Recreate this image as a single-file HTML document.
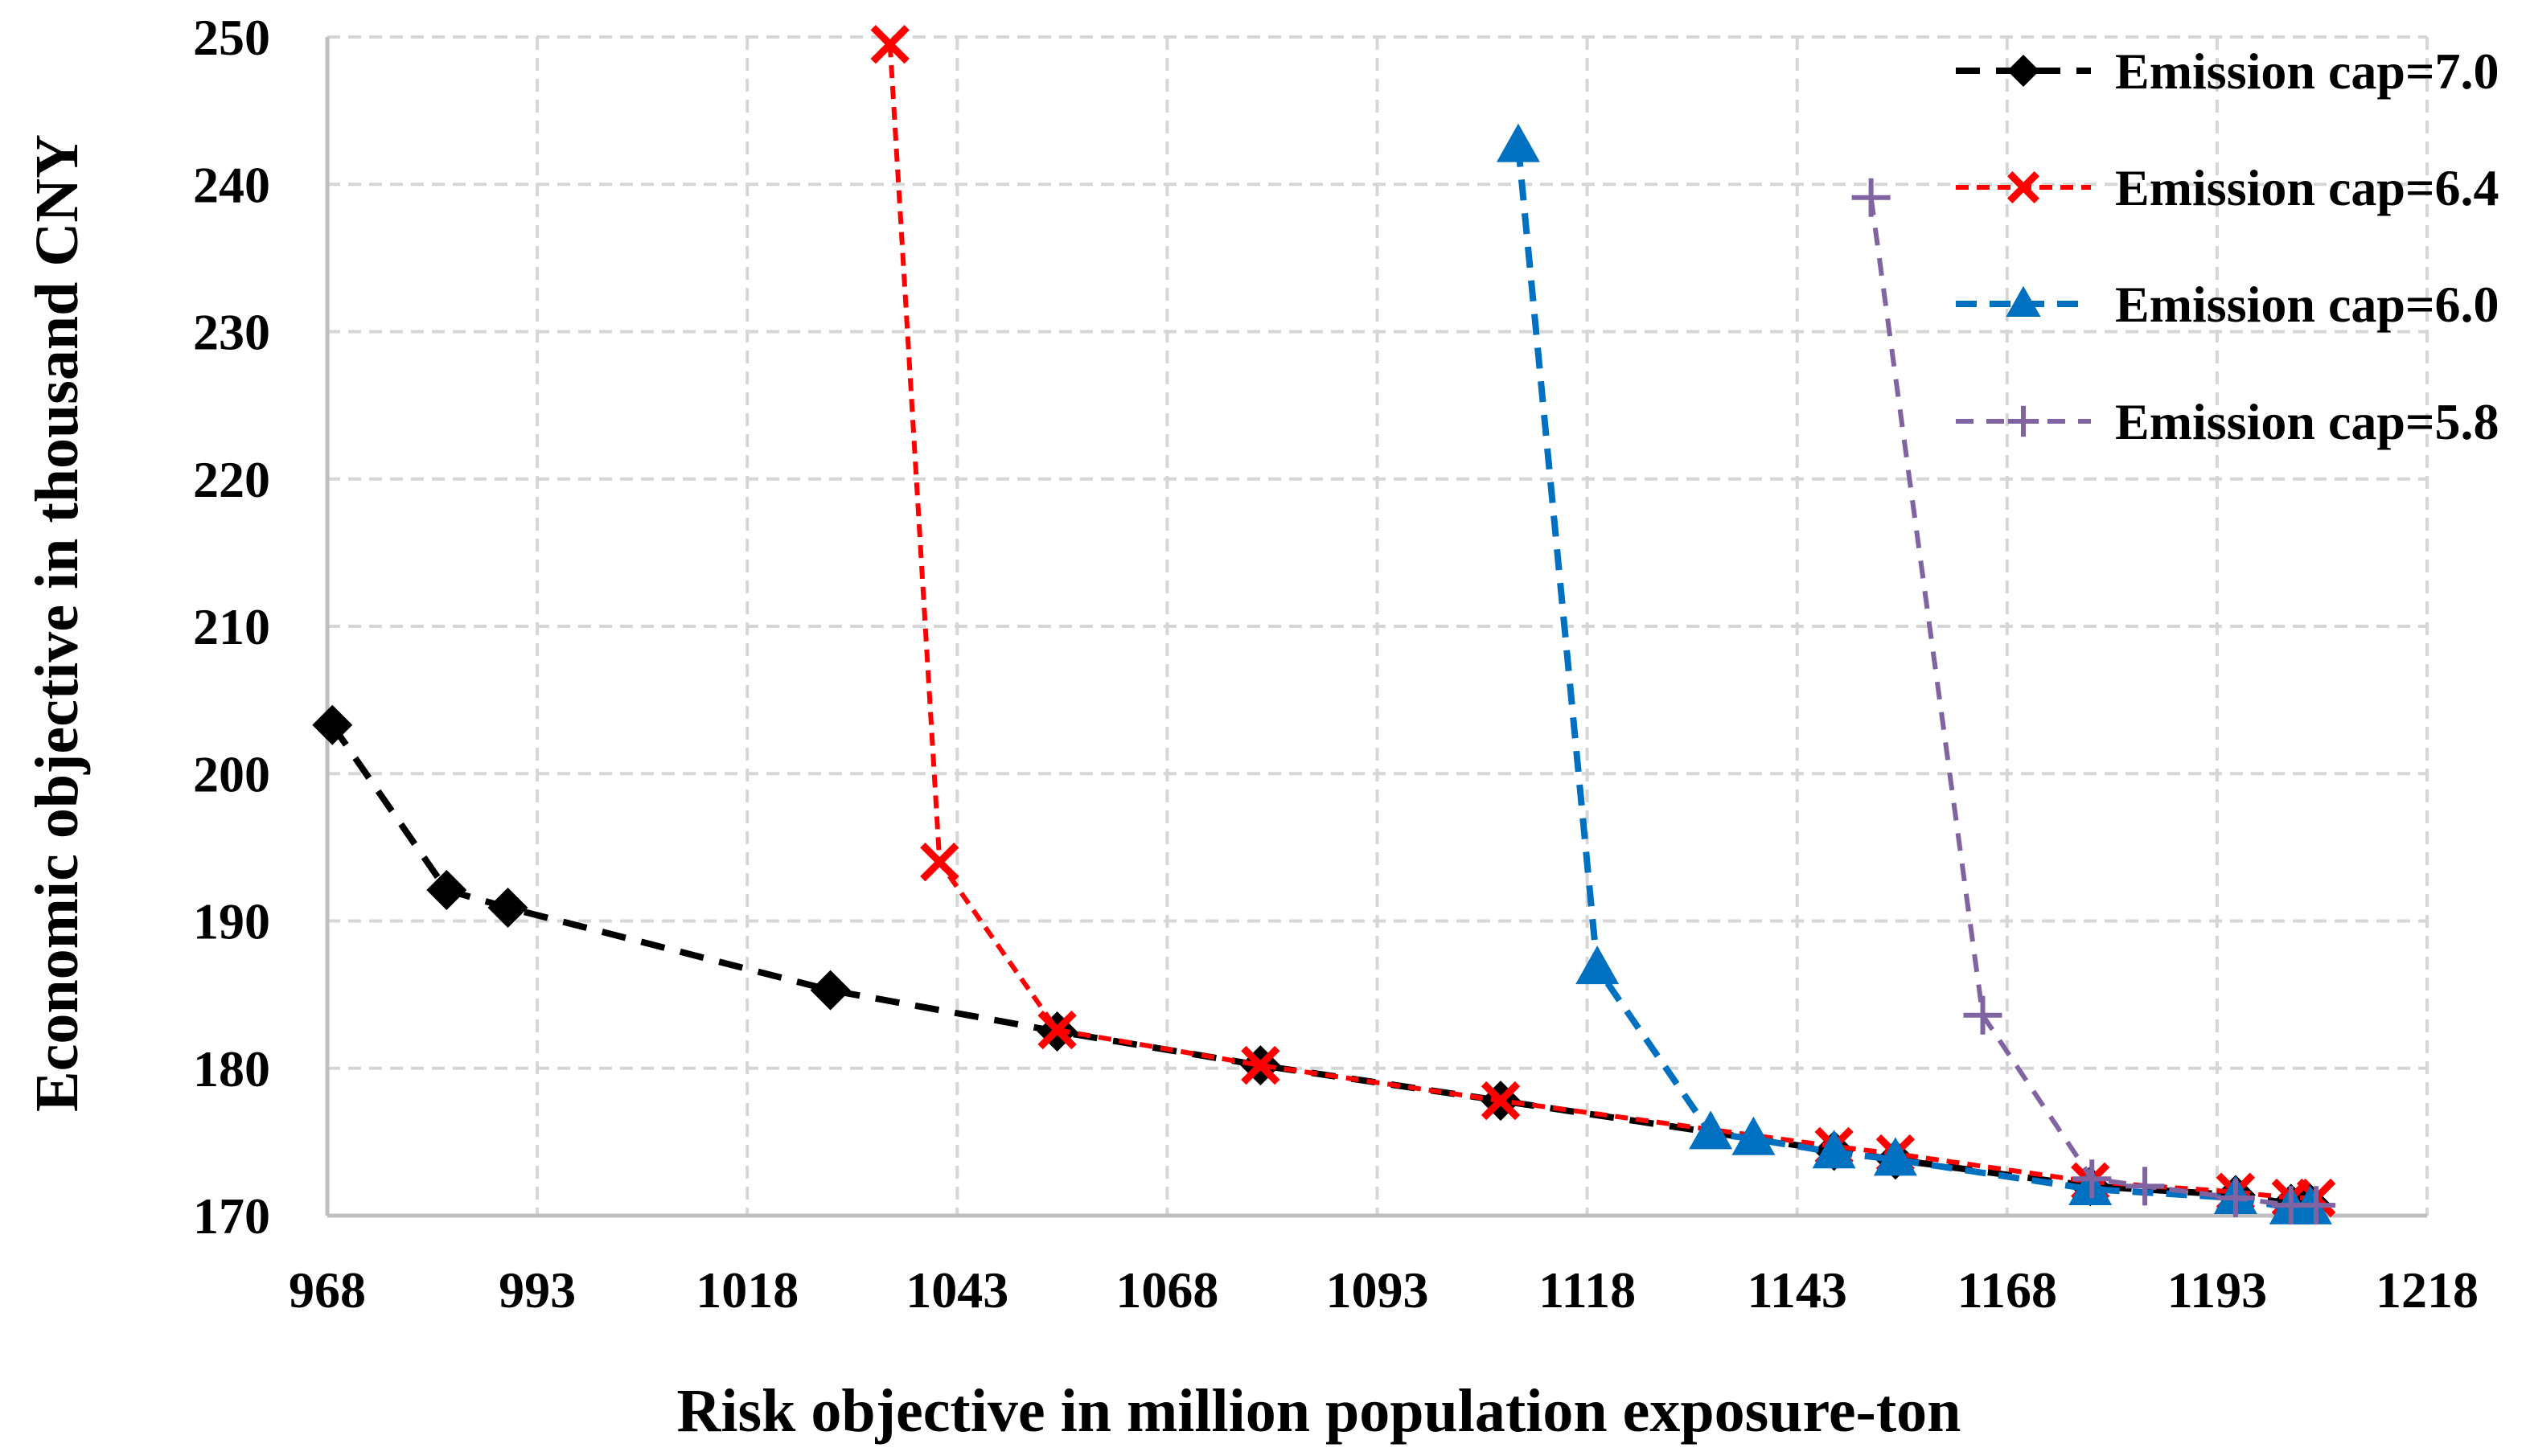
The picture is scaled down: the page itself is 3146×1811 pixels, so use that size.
<!DOCTYPE html>
<html><head><meta charset="utf-8"><style>
html,body{margin:0;padding:0;background:#fff;width:3146px;height:1811px;overflow:hidden}
svg{display:block}
text{font-family:"Liberation Serif",serif;font-weight:bold;fill:#000}
</style></head><body>
<svg id="chart" width="3146" height="1811" viewBox="0 0 3146 1811" xmlns="http://www.w3.org/2000/svg">
<g id="grid"></g>
<g id="axes"></g>
<g id="series"></g>
<g id="legend"></g>
<text x="1640" y="1780" font-size="76" text-anchor="middle">Risk objective in million population exposure-ton</text>
<text transform="translate(96,775) rotate(-90)" font-size="76" text-anchor="middle">Economic objective in thousand CNY</text>
</svg>
<script>
const xTicks = [968, 993, 1018, 1043, 1068, 1093, 1118, 1143, 1168, 1193, 1218];
const yTicks = [170, 180, 190, 200, 210, 220, 230, 240, 250];
const seriesNames = ["Emission cap=7.0", "Emission cap=6.4", "Emission cap=6.0", "Emission cap=5.8"];
const cap70X = [968.6, 982.2, 989.5, 1027.9, 1054.9, 1079.1, 1107.7, 1147.4, 1154.7, 1177.9, 1195.2, 1201.8, 1204.1];
const cap70Y = [203.3, 192.1, 190.9, 185.3, 182.5, 180.2, 177.8, 174.4, 173.8, 172.0, 171.4, 170.8, 170.8];
const cap64X = [1035.0, 1040.9, 1054.9, 1079.1, 1107.7, 1147.4, 1154.7, 1177.9, 1195.2, 1201.8, 1204.8];
const cap64Y = [249.5, 194.0, 182.6, 180.2, 177.8, 174.7, 174.2, 172.3, 171.6, 171.2, 171.2];
const cap60X = [1109.8, 1119.2, 1132.7, 1137.8, 1147.4, 1154.7, 1177.9, 1195.2, 1201.8, 1204.1];
const cap60Y = [242.6, 186.8, 175.6, 175.2, 174.3, 173.8, 171.8, 171.2, 170.5, 170.5];
const cap58X = [1151.8, 1165.1, 1178.1, 1184.4, 1195.2, 1201.8, 1204.8];
const cap58Y = [239.1, 183.6, 172.5, 172.0, 171.2, 170.7, 170.7];

const NS = "http://www.w3.org/2000/svg";
const L = 407, R = 3018, T = 46, B = 1512;
const xMin = 968, xMax = 1218, yMin = 170, yMax = 250;
const sx = v => L + (v - xMin) / (xMax - xMin) * (R - L);
const sy = v => B - (v - yMin) / (yMax - yMin) * (B - T);
function mk(tag, attrs, parent) {
  const e = document.createElementNS(NS, tag);
  for (const k in attrs) e.setAttribute(k, attrs[k]);
  parent.appendChild(e);
  return e;
}
const grid = document.getElementById('grid');
const axes = document.getElementById('axes');
xTicks.forEach((t, i) => {
  if (i > 0) {
    const g = mk('line', {x1: sx(t), x2: sx(t), y1: T, y2: B, stroke: '#d6d6d6', 'stroke-width': 4, 'stroke-dasharray': '16,10'}, grid);
    
    
  }
  const lb = mk('text', {x: sx(t), y: 1626, 'font-size': 64, 'text-anchor': 'middle'}, axes);
  lb.textContent = t;
  
  
});
yTicks.forEach((t, i) => {
  if (i > 0) {
    const g = mk('line', {x1: L, x2: R, y1: sy(t), y2: sy(t), stroke: '#d6d6d6', 'stroke-width': 4, 'stroke-dasharray': '16,10'}, grid);
    
    
  }
  const lb = mk('text', {x: 336, y: sy(t) + 22, 'font-size': 64, 'text-anchor': 'end'}, axes);
  lb.textContent = t;
  
  
});
const xa = mk('line', {x1: L, x2: R, y1: B, y2: B, stroke: '#bfbfbf', 'stroke-width': 5}, axes);


const ya = mk('line', {x1: L, x2: L, y1: T, y2: B, stroke: '#bfbfbf', 'stroke-width': 5}, axes);



function marker(type, cx, cy, color, parent, k) {
  let e;
  if (type === 'diamond') {
    e = mk('path', {d: `M${cx},${cy-25*k}L${cx+25*k},${cy}L${cx},${cy+25*k}L${cx-25*k},${cy}Z`, fill: color}, parent);
  } else if (type === 'x') {
    e = mk('path', {d: `M${cx-21*k},${cy-21*k}L${cx+21*k},${cy+21*k}M${cx-21*k},${cy+21*k}L${cx+21*k},${cy-21*k}`, stroke: color, 'stroke-width': 9, fill: 'none'}, parent);
  } else if (type === 'tri') {
    e = mk('path', {d: `M${cx},${cy-28*k}L${cx+27*k},${cy+20*k}L${cx-27*k},${cy+20*k}Z`, fill: color}, parent);
  } else {
    e = mk('path', {d: `M${cx-24*k},${cy}L${cx+24*k},${cy}M${cx},${cy-24*k}L${cx},${cy+24*k}`, stroke: color, 'stroke-width': 6, fill: 'none'}, parent);
  }
  return e;
}
const seriesDefs = [
  {xs: cap70X, ys: cap70Y, color: '#000000', w: 8, dash: '30,20', m: 'diamond', name: 'series-cap-7-0'},
  {xs: cap64X, ys: cap64Y, color: '#ff0000', w: 6, dash: '16,10', m: 'x', name: 'series-cap-6-4'},
  {xs: cap60X, ys: cap60Y, color: '#0070c0', w: 8, dash: '26,16', m: 'tri', name: 'series-cap-6-0'},
  {xs: cap58X, ys: cap58Y, color: '#8064a2', w: 6, dash: '22,16', m: 'plus', name: 'series-cap-5-8'}
];
const sg = document.getElementById('series');
seriesDefs.forEach(s => {
  const g = mk('g', {}, sg);
  
  
  const pts = s.xs.map((x, i) => sx(x) + ',' + sy(s.ys[i])).join(' ');
  const pl = mk('polyline', {points: pts, fill: 'none', stroke: s.color, 'stroke-width': s.w, 'stroke-dasharray': s.dash, 'stroke-linejoin': 'round'}, g);
  
  
  s.xs.forEach((x, i) => {
    const m = marker(s.m, sx(x), sy(s.ys[i]), s.color, g, 1);
    
    
  });
});
const lg = document.getElementById('legend');
const legY = [88, 233, 378, 524];
seriesDefs.forEach((s, i) => {
  const g = mk('g', {}, lg);
  
  
  const y = legY[i];
  const ln = mk('line', {x1: 2432, x2: 2600, y1: y, y2: y, stroke: s.color, 'stroke-width': s.w, 'stroke-dasharray': s.dash}, g);
  
  
  const m = marker(s.m, 2516, y, s.color, g, 0.8);
  
  
  const t = mk('text', {x: 2630, y: y + 22, 'font-size': 64}, g);
  t.textContent = seriesNames[i];
  
  
});
</script>
</body></html>
